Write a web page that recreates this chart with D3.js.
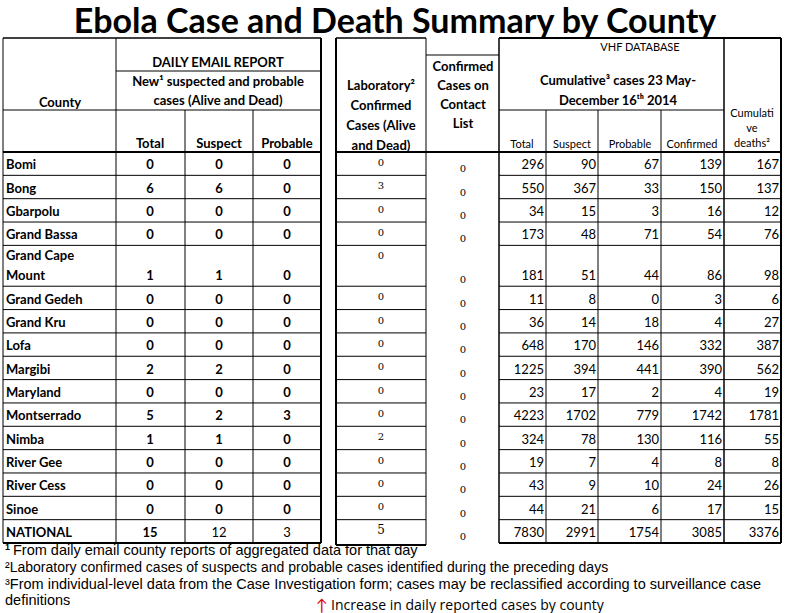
<!DOCTYPE html>
<html><head><meta charset="utf-8">
<script src="https://cdn.jsdelivr.net/npm/d3@7"></script>
<style>body{margin:0;background:#fff}</style></head>
<body><svg id="c" width="807" height="613"></svg>
<script>
const counties=["Bomi","Bong","Gbarpolu","Grand Bassa","Grand Cape|Mount","Grand Gedeh","Grand Kru","Lofa","Margibi","Maryland","Montserrado","Nimba","River Gee","River Cess","Sinoe","NATIONAL"];
const rowUnits=[1,1,1,1,1.75,1,1,1,1,1,1,1,1,1,1,1];
const newTotal=[0,6,0,0,1,0,0,0,2,0,5,1,0,0,0,15];
const newSuspect=[0,6,0,0,1,0,0,0,2,0,2,1,0,0,0,12];
const newProbable=[0,0,0,0,0,0,0,0,0,0,3,0,0,0,0,3];
const labConfirmed=[0,3,0,0,0,0,0,0,0,0,0,2,0,0,0,5];
const contactList=[0,0,0,0,0,0,0,0,0,0,0,0,0,0,0,0];
const cumTotal=[296,550,34,173,181,11,36,648,1225,23,4223,324,19,43,44,7830];
const cumSuspect=[90,367,15,48,51,8,14,170,394,17,1702,78,7,9,21,2991];
const cumProbable=[67,33,3,71,44,0,18,146,441,2,779,130,4,10,6,1754];
const cumConfirmed=[139,150,16,54,86,3,4,332,390,4,1742,116,8,24,17,3085];
const cumDeaths=[167,137,12,76,98,6,27,387,562,19,1781,55,8,26,15,3376];

const svg=d3.select("#c");
const F="Lato, 'Open Sans', sans-serif";
const top0=152;
const cum=[0];rowUnits.forEach(u=>cum.push(cum[cum.length-1]+u));
const y=d3.scaleLinear().domain([0,cum[cum.length-1]]).range([top0,543]);

svg.append("text").attr("x",395).attr("y",33).attr("text-anchor","middle").attr("font-family",F).attr("font-weight","bold").attr("font-size",34).text("Ebola Case and Death Summary by County");

const L=(x1,y1,x2,y2,w=1)=>svg.append("line").attr("x1",x1).attr("y1",y1).attr("x2",x2).attr("y2",y2).attr("stroke","#000").attr("stroke-width",w);
const V=(x,y1,y2,w=1)=>L(x,y1,x,y2,w);
const T=(x,yy,s,o={})=>{const t=svg.append("text").attr("x",x).attr("y",yy).attr("font-family",o.f||F).attr("font-size",o.s||13).attr("font-weight",o.b?"bold":"normal").attr("text-anchor",o.a||"middle").attr("fill",o.c||"#000");
  t.text(s);return t;};

// horizontal header lines
L(3,38,321,38,1.5); L(336,38,426,38,1.5); L(426,55,499,55); L(499,38,781,38,2);
L(116,71,321,71); L(116,110,321,110); L(3,110,116,110); L(499,110,724,110);
L(3,top0,321,top0,2); L(336,top0,781,top0,2);
// verticals
V(3,38,543); V(116,38,543);
V(321,38,543,2); V(336,38,545,2); V(426,38,545); V(499,38,543,1.5); V(781,38,543,2); V(724,38,543,1.5);
[185,253].forEach(x=>V(x,110,543));
[546,598,661].forEach(x=>V(x,110,543));
L(3,543,321,543,2); L(336,545,426,545,2); L(499,543,781,543,2);

// header text
T(218,67,"DAILY EMAIL REPORT",{b:1});
T(218,86,"New¹ suspected and probable",{b:1});
T(218,105,"cases (Alive and Dead)",{b:1});
T(60,107,"County",{b:1});
T(150,148,"Total",{b:1});T(219,148,"Suspect",{b:1});T(287,148,"Probable",{b:1});
["Laboratory²","Confirmed","Cases (Alive","and Dead)"].forEach((s,i)=>T(381,90+i*20,s,{b:1}));
["Confirmed","Cases on","Contact","List"].forEach((s,i)=>T(463,71+i*19,s,{b:1}));
T(640,51,"VHF DATABASE",{s:11});
T(618,85,"Cumulative³ cases 23 May-",{b:1});
T(618,105,"December 16ᵗʰ  2014",{b:1});
T(522,148,"Total",{s:11});T(572,148,"Suspect",{s:11});T(630,148,"Probable",{s:11});T(692,148,"Confirmed",{s:11});
["Cumulati","ve","deaths²"].forEach((s,i)=>T(752,117+i*15,s,{s:11}));

// rows
counties.forEach((c,i)=>{
  const y0=y(cum[i]),y1=y(cum[i+1]),mid=y1-6;
  if(i<counties.length-1){L(3,y1,321,y1);L(336,y1,426,y1);L(499,y1,781,y1);}
  const parts=c.split("|");
  parts.forEach((p,k)=>T(6,(parts.length>1?y0+15+k*20:mid),p,{b:1,a:"start"}));
  const nat=i===counties.length-1;
  T(150,mid,newTotal[i],{b:1});
  T(219,mid,newSuspect[i],{b:!nat});
  T(287,mid,newProbable[i],{b:!nat});
  T(381,y0+14,labConfirmed[i],{s:nat?12:10,f:"'DejaVu Serif', serif"});
  T(463,y1-3,contactList[i],{s:10,f:"'DejaVu Serif',serif"});
  [[cumTotal,544],[cumSuspect,596],[cumProbable,659],[cumConfirmed,722],[cumDeaths,779]].forEach(([a,x])=>T(x,mid,a[i],{a:"end"}));
});

const N="'Liberation Sans Narrow','Arial Narrow',sans-serif";
T(13,555,"From daily email county reports of aggregated data for that day",{a:"start",f:N,s:14.5});
T(5,550,"1",{a:"start",f:N,s:9,b:1});
T(5,572,"²Laboratory confirmed cases of suspects and probable cases identified during the preceding days",{a:"start",f:N,s:14});
T(5,589,"³From individual-level data from the Case Investigation form; cases may be reclassified according to  surveillance case",{a:"start",f:N,s:14.5});
T(5,605,"definitions",{a:"start",f:N,s:14.5});
T(316,611,"↑",{a:"start",s:16,c:"#e00000"});
T(331,610,"Increase in daily reported cases by county",{a:"start",s:14,f:"'Open Sans',sans-serif"});
</script></body></html>
